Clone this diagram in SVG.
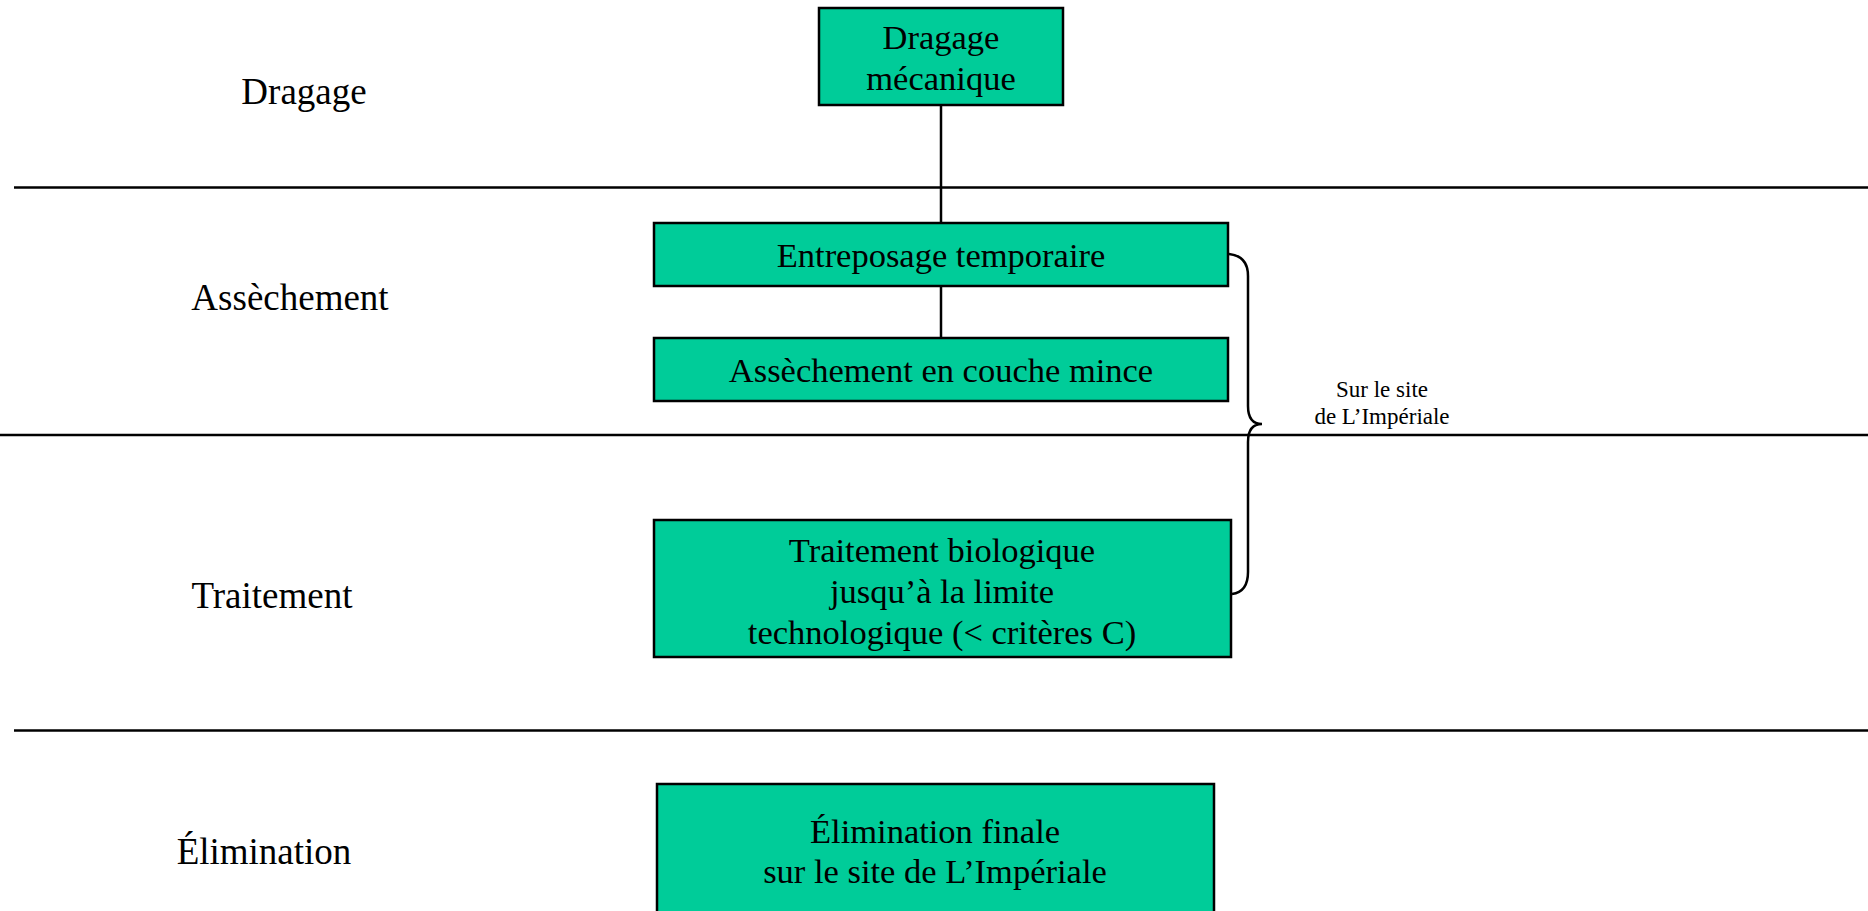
<svg xmlns="http://www.w3.org/2000/svg" width="1868" height="911" viewBox="0 0 1868 911">
  <style>
    .box { fill: #00CC99; stroke: #000; stroke-width: 2.5; }
    .lane { stroke: #000; stroke-width: 2.5; fill: none; }
    .link { stroke: #000; stroke-width: 2.5; fill: none; }
    .t { font-family: "Liberation Serif", "Times New Roman", serif; fill: #000; text-anchor: middle; }
    .bt { font-size: 34.5px; }
    .lt { font-size: 37px; }
    .st { font-size: 23px; }
  </style>
  <rect width="1868" height="911" fill="#fff"/>

  <!-- lane separators -->
  <g id="lanes">
    <line class="lane" x1="14" y1="187.5" x2="1868" y2="187.5"/>
    <line class="lane" x1="0" y1="435" x2="1868" y2="435"/>
    <line class="lane" x1="14" y1="730.5" x2="1868" y2="730.5"/>
  </g>

  <!-- lane titles -->
  <g id="lane-titles">
    <text class="t lt" x="304" y="104">Dragage</text>
    <text class="t lt" x="290" y="310">Assèchement</text>
    <text class="t lt" x="272" y="608">Traitement</text>
    <text class="t lt" x="264" y="864">Élimination</text>
  </g>

  <!-- connectors -->
  <g id="connectors">
    <line class="link" x1="941" y1="105" x2="941" y2="223"/>
    <line class="link" x1="941" y1="286" x2="941" y2="338"/>
    <path id="brace" class="link" d="M1229,254 Q1248,256 1248,276 L1248,406 Q1248,424 1262,424 Q1248,424 1248,442 L1248,572 Q1248,592 1232,594"/>
  </g>

  <g id="node-dragage">
    <rect class="box" x="819" y="8" width="244" height="97"/>
    <text class="t bt" x="941" y="49">Dragage</text>
    <text class="t bt" x="941" y="90">mécanique</text>
  </g>

  <g id="node-entreposage">
    <rect class="box" x="654" y="223" width="574" height="63"/>
    <text class="t bt" x="941" y="267">Entreposage temporaire</text>
  </g>

  <g id="node-assechement">
    <rect class="box" x="654" y="338" width="574" height="63"/>
    <text class="t bt" x="941" y="382">Assèchement en couche mince</text>
  </g>

  <g id="node-traitement">
    <rect class="box" x="654" y="520" width="577" height="137"/>
    <text class="t bt" x="942" y="562">Traitement biologique</text>
    <text class="t bt" x="942" y="603">jusqu’à la limite</text>
    <text class="t bt" x="942" y="644">technologique (&lt; critères C)</text>
  </g>

  <g id="node-elimination">
    <rect class="box" x="657" y="784" width="557" height="140"/>
    <text class="t bt" x="935" y="843">Élimination finale</text>
    <text class="t bt" x="935" y="883">sur le site de L’Impériale</text>
  </g>

  <g id="brace-label">
    <text class="t st" x="1382" y="397">Sur le site</text>
    <text class="t st" x="1382" y="424">de L’Impériale</text>
  </g>
</svg>
